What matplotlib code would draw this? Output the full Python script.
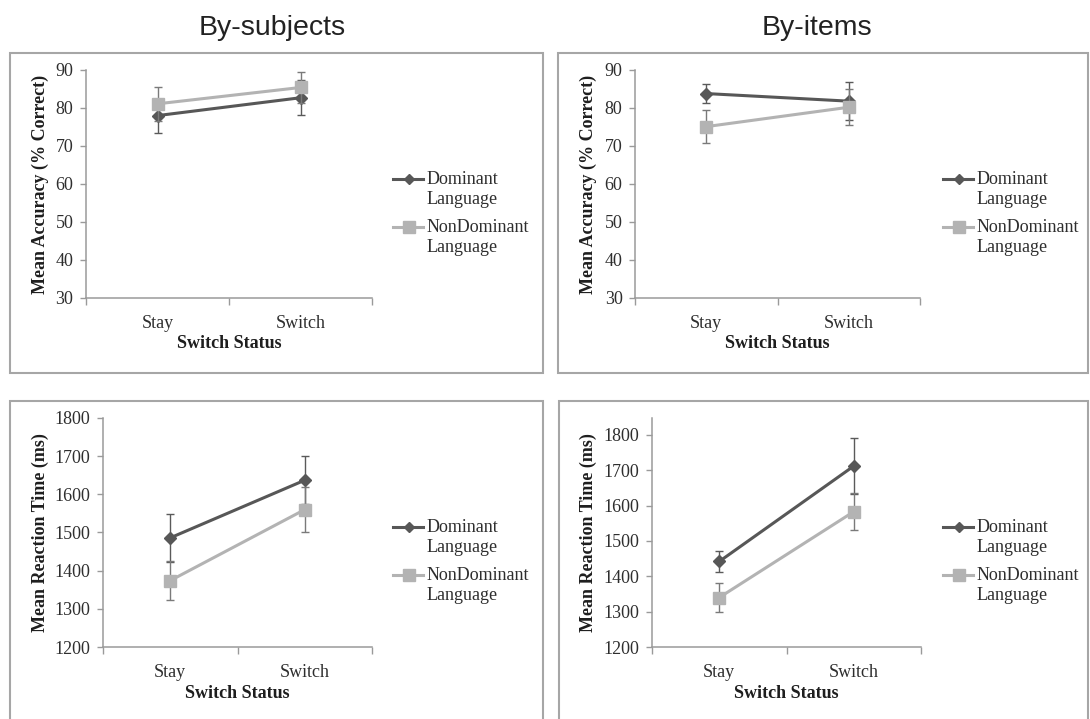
import matplotlib
matplotlib.use("Agg")
import matplotlib.pyplot as plt
from matplotlib.patches import Rectangle
from matplotlib.lines import Line2D

# ---- data ----
conditions = ["Stay", "Switch"]
series_names = ["Dominant\nLanguage", "NonDominant\nLanguage"]
panel_titles = ["By-subjects", "By-items"]

acc_subj_dom = [78.0, 82.7]
acc_subj_dom_err = [4.5, 4.6]
acc_subj_non = [81.1, 85.4]
acc_subj_non_err = [4.5, 4.1]

acc_item_dom = [83.8, 81.8]
acc_item_dom_err = [2.6, 5.0]
acc_item_non = [75.1, 80.2]
acc_item_non_err = [4.4, 4.8]

rt_subj_dom = [1486, 1637]
rt_subj_dom_err = [63, 63]
rt_subj_non = [1374, 1560]
rt_subj_non_err = [52, 59]

rt_item_dom = [1442, 1712]
rt_item_dom_err = [30, 80]
rt_item_non = [1340, 1583]
rt_item_non_err = [42, 52]

acc_ticks = [30, 40, 50, 60, 70, 80, 90]
rt_ticks = [1200, 1300, 1400, 1500, 1600, 1700, 1800]

W, H = 1090, 719
fig = plt.figure(figsize=(W / 100, H / 100), dpi=100)
fig.patch.set_facecolor("white")

SERIF = ["Liberation Serif", "DejaVu Serif"]
SANS = ["Liberation Sans", "DejaVu Sans"]
DOM_C = "#575757"
NON_C = "#b3b3b3"
AX_C = "#9a9a9a"
TXT_C = "#2e2e2e"
FS = 13


def px_rect(l, t, r, b):
    return [l / W, (H - b) / H, (r - l) / W, (b - t) / H]


def fx(x):
    return x / W


def fy(y):
    return 1 - y / H


# panel boxes
for (l, t, r, b) in [(10, 53, 543, 373), (558, 53, 1088, 373),
                     (10, 401, 543, 725), (559, 401, 1088, 725)]:
    fig.patches.append(Rectangle((l / W, (H - b) / H), (r - l) / W, (b - t) / H,
                                 transform=fig.transFigure, fill=False,
                                 edgecolor="#a6a6a6", linewidth=1.5))

# titles
fig.text(fx(272), fy(28), panel_titles[0], ha="center", va="center",
         fontsize=20.5, family=SANS, color="#222222")
fig.text(fx(817), fy(28), panel_titles[1], ha="center", va="center",
         fontsize=20.5, family=SANS, color="#222222")

panels = [
    dict(rect=(86, 70, 372, 298), dom=acc_subj_dom, dome=acc_subj_dom_err,
         non=acc_subj_non, none=acc_subj_non_err, ylim=(30, 90), ticks=acc_ticks,
         ylabel="Mean Accuracy (% Correct)", ylx=40, leg=(393, 179)),
    dict(rect=(635, 70, 920, 298), dom=acc_item_dom, dome=acc_item_dom_err,
         non=acc_item_non, none=acc_item_non_err, ylim=(30, 90), ticks=acc_ticks,
         ylabel="Mean Accuracy (% Correct)", ylx=588, leg=(943, 179)),
    dict(rect=(103, 418, 372, 647), dom=rt_subj_dom, dome=rt_subj_dom_err,
         non=rt_subj_non, none=rt_subj_non_err, ylim=(1200, 1800), ticks=rt_ticks,
         ylabel="Mean Reaction Time (ms)", ylx=40, leg=(393, 527)),
    dict(rect=(652, 418, 921, 647), dom=rt_item_dom, dome=rt_item_dom_err,
         non=rt_item_non, none=rt_item_non_err, ylim=(1200, 1848), ticks=rt_ticks,
         ylabel="Mean Reaction Time (ms)", ylx=588, leg=(943, 527)),
]

styles = [dict(color=DOM_C, marker="D", ms=5), dict(color=NON_C, marker="s", ms=8)]

xpos = [0.5, 1.5]
for p in panels:
    l, t, r, b = p["rect"]
    ax = fig.add_axes(px_rect(l, t, r, b))
    ax.set_xlim(0, 2)
    ax.set_ylim(*p["ylim"])
    for s in ["top", "right"]:
        ax.spines[s].set_visible(False)
    for s in ["left", "bottom"]:
        ax.spines[s].set_color(AX_C)
        ax.spines[s].set_linewidth(1.1)

    ax.errorbar(xpos, p["dom"], yerr=p["dome"], color=DOM_C, ecolor="#5a5a5a",
                elinewidth=1.0, capsize=3, capthick=1.0, linewidth=2.2,
                marker="D", markersize=6, zorder=3)
    ax.errorbar(xpos, p["non"], yerr=p["none"], color=NON_C, ecolor="#7a7a7a",
                elinewidth=1.0, capsize=3, capthick=1.0, linewidth=2.2,
                marker="s", markersize=9, zorder=4)

    ax.set_yticks(p["ticks"])
    ax.set_yticklabels([str(v) for v in p["ticks"]], family=SERIF, fontsize=FS,
                       color=TXT_C)
    ax.tick_params(axis="y", direction="out", length=4, width=1.0, color=AX_C,
                   pad=5)
    ax.set_xticks([0, 1, 2])
    ax.set_xticklabels(["", "", ""])
    ax.tick_params(axis="x", which="major", direction="out", length=5, width=1.0,
                   color=AX_C)
    ax.set_xticks(xpos, minor=True)
    ax.set_xticklabels(conditions, minor=True, family=SERIF, fontsize=FS,
                       color=TXT_C)
    ax.tick_params(axis="x", which="minor", length=0, pad=12)

    ax.set_ylabel(p["ylabel"], family=SERIF, fontsize=FS, fontweight="bold",
                  color="#1e1e1e", va="center")
    ax.yaxis.set_label_coords((p["ylx"] - l) / (r - l), 0.5)
    ax.set_xlabel("Switch Status", family=SERIF, fontsize=FS, fontweight="bold",
                  color="#1e1e1e", va="center")
    ax.xaxis.set_label_coords(0.5, -46 / (b - t))

    # legend (Excel style: handle aligned with the first text line)
    lx, ly = p["leg"]
    for i, (name, st) in enumerate(zip(series_names, styles)):
        y0 = ly + 48 * i
        fig.add_artist(Line2D([fx(lx), fx(lx + 30)], [fy(y0), fy(y0)],
                              transform=fig.transFigure, color=st["color"],
                              linewidth=2.2))
        fig.add_artist(Line2D([fx(lx + 16)], [fy(y0)], transform=fig.transFigure,
                              color=st["color"], marker=st["marker"],
                              markersize=st["ms"], linestyle="none"))
        for j, line in enumerate(name.split("\n")):
            fig.text(fx(lx + 34), fy(y0 + 21 * j), line, ha="left", va="center",
                     family=SERIF, fontsize=FS, color=TXT_C)

fig.savefig("out.png", dpi=100, facecolor="white")
